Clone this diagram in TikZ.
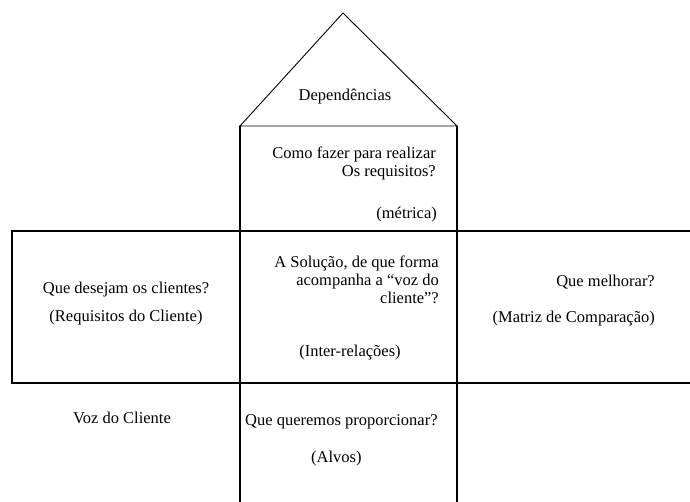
\documentclass[tikz,border=0pt]{standalone}
\usepackage{fontspec}
\setmainfont{Liberation Serif}
\usepackage{tikz}
\usetikzlibrary{calc}
\usetikzlibrary{positioning}
\tikzstyle{wall} = [line width=1.3pt, black, line cap=round]
\tikzstyle{roof} = [line width=0.9pt, black, line join=miter]
\tikzstyle{txt} = [inner sep=0pt, font=\fontsize{16.5}{18}\selectfont, text height=11.5pt, text depth=3.5pt]
\tikzstyle{txtblock} = [inner sep=0pt, font=\fontsize{16.5}{18}\selectfont, align=right, anchor=east]

\begin{document}
\begin{tikzpicture}[x=1pt,y=1pt]
            \useasboundingbox (0,0) rectangle (690,502);
            \coordinate (top) at (343,489);
            \coordinate (roofl) at (240,376);
            \coordinate (roofr) at (457,376);
            \coordinate (footl) at (240,0);
            \coordinate (footr) at (457,0);
            \coordinate (0) at (12,271);
            \coordinate (1) at (690,271);
            \coordinate (2) at (12,119);
            \coordinate (3) at (690,119);

            \draw [roof] (roofl) -- (top) -- (roofr) -- cycle;
            \draw [wall] (roofl) -- (footl);
            \draw [wall] (roofr) -- (footr);
            \draw [wall] (1) -- (0) -- (2) -- (3);

            \node (dep) [txt] at (345,405) {Dependências};
            \node (como) [txtblock] at (436,339) {Como fazer para realizar\\Os requisitos?};
            \node (metrica) [txt, anchor=east] at (437,287) {(métrica)};
            \node (solucao) [txtblock] at (439,222) {A Solução, de que forma\\acompanha a “voz do\\cliente”?};
            \node (inter) [txt] at (350,149) {(Inter-relações)};

            \node (desejo) [txt] at (126,212) {Que desejam os clientes?};
            \node (requisitos) [txt, below=12.5pt of desejo] {(Requisitos do Cliente)};
            \node (voz) [txt] at (122,82) {Voz do Cliente};

            \node (melhorar) [txt, anchor=east] at (655,219) {Que melhorar?};
            \node (matriz) [txt, below=20.5pt of melhorar.south east, anchor=north east] {(Matriz de Comparação)};

            \node (proporcionar) [txt, anchor=west] at (245,80) {Que queremos proporcionar?};
            \node (alvos) [txt, below=21.5pt of proporcionar.south, anchor=north, xshift=-5pt] {(Alvos)};
\end{tikzpicture}
\end{document}
